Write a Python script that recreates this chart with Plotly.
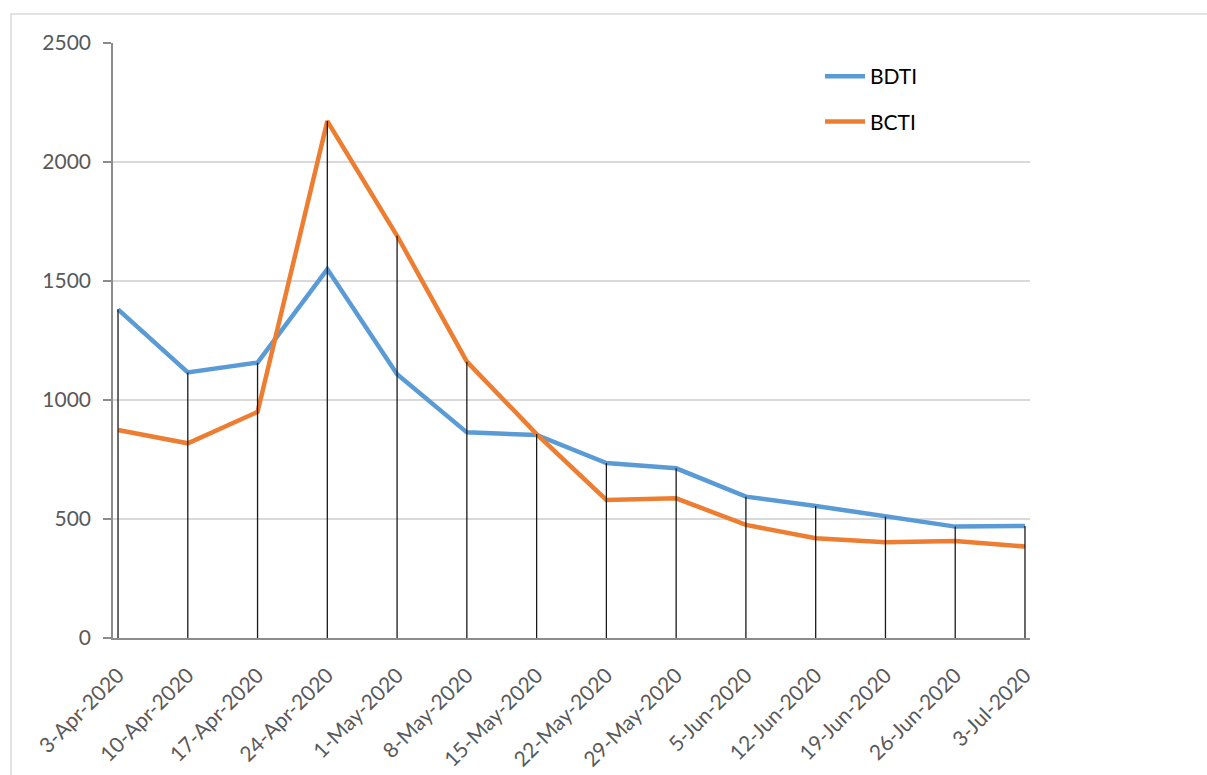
import plotly.graph_objects as go

# Weekly tanker freight indices, April - July 2020
dates = ["3-Apr-2020", "10-Apr-2020", "17-Apr-2020", "24-Apr-2020", "1-May-2020",
         "8-May-2020", "15-May-2020", "22-May-2020", "29-May-2020", "5-Jun-2020",
         "12-Jun-2020", "19-Jun-2020", "26-Jun-2020", "3-Jul-2020"]
bdti = [1381, 1116, 1157, 1550, 1108, 864, 853, 735, 713, 594, 555, 510, 468, 471]
bcti = [874, 818, 950, 2172, 1690, 1161, 857, 580, 587, 475, 419, 402, 408, 384]
y_ticks = [0, 500, 1000, 1500, 2000, 2500]

BLUE = "#5B9BD5"
ORANGE = "#ED7D31"
GRID = "#D9D9D9"
AXIS = "#8C8C8C"
TEXT = "#595959"
FONT = "Lato, 'Open Sans', sans-serif"

idx = list(range(len(dates)))

# drop lines from the higher of the two series down to the axis
drop_x, drop_y = [], []
for i, (a, b) in enumerate(zip(bdti, bcti)):
    drop_x += [i, i, None]
    drop_y += [0, max(a, b), None]

fig = go.Figure()
fig.add_trace(go.Scatter(x=idx, y=bdti, mode="lines", name="BDTI",
                         legendgroup="a",
                         line=dict(color=BLUE, width=4.5)))
fig.add_trace(go.Scatter(x=idx, y=bcti, mode="lines", name="BCTI",
                         legendgroup="b",
                         line=dict(color=ORANGE, width=4.5)))
fig.add_trace(go.Scatter(x=drop_x, y=drop_y, mode="lines", showlegend=False,
                         hoverinfo="skip",
                         line=dict(color="#1a1a1a", width=1.3)))

W, H = 1207, 775
L, R, T, B = 113, 177, 43, 137
pw, ph = W - L - R, H - T - B

def px_x(px):
    return (px - L) / pw

def px_y(py):
    return (H - B - py) / ph

fig.update_layout(
    width=W, height=H,
    margin=dict(l=L, r=R, t=T, b=B, autoexpand=False),
    paper_bgcolor="white",
    plot_bgcolor="white",
    font=dict(family=FONT, size=20, color=TEXT),
    showlegend=True,
    legend=dict(
        x=px_x(820), y=px_y(56), xanchor="left", yanchor="top",
        bgcolor="rgba(0,0,0,0)",
        font=dict(family=FONT, size=21, color="#000000"),
        tracegroupgap=15,
        itemwidth=40,
    ),
    xaxis=dict(
        range=[-0.072, len(dates) - 1 + 0.072],
        tickmode="array", tickvals=idx, ticktext=dates,
        tickangle=-45,
        automargin=False,
        showgrid=False, zeroline=False,
        showline=True, linecolor=AXIS, linewidth=1.5,
        ticks="",
        ticklabelstandoff=15,
        tickfont=dict(family=FONT, size=21, color=TEXT),
    ),
    yaxis=dict(
        range=[0, 2500],
        tickmode="array", tickvals=y_ticks,
        automargin=False,
        showgrid=True, gridcolor=GRID, gridwidth=1.5,
        zeroline=False,
        showline=True, linecolor=AXIS, linewidth=1.5,
        ticks="outside", ticklen=8, tickcolor=AXIS, tickwidth=1.5,
        ticklabelstandoff=8,
        tickfont=dict(family=FONT, size=21, color=TEXT),
    ),
    shapes=[dict(
        type="rect", xref="paper", yref="paper", layer="below",
        x0=px_x(11), x1=px_x(1230), y0=px_y(800), y1=px_y(14),
        line=dict(color=GRID, width=1.5), fillcolor="rgba(0,0,0,0)",
    )],
)

fig.write_html("out.html")
